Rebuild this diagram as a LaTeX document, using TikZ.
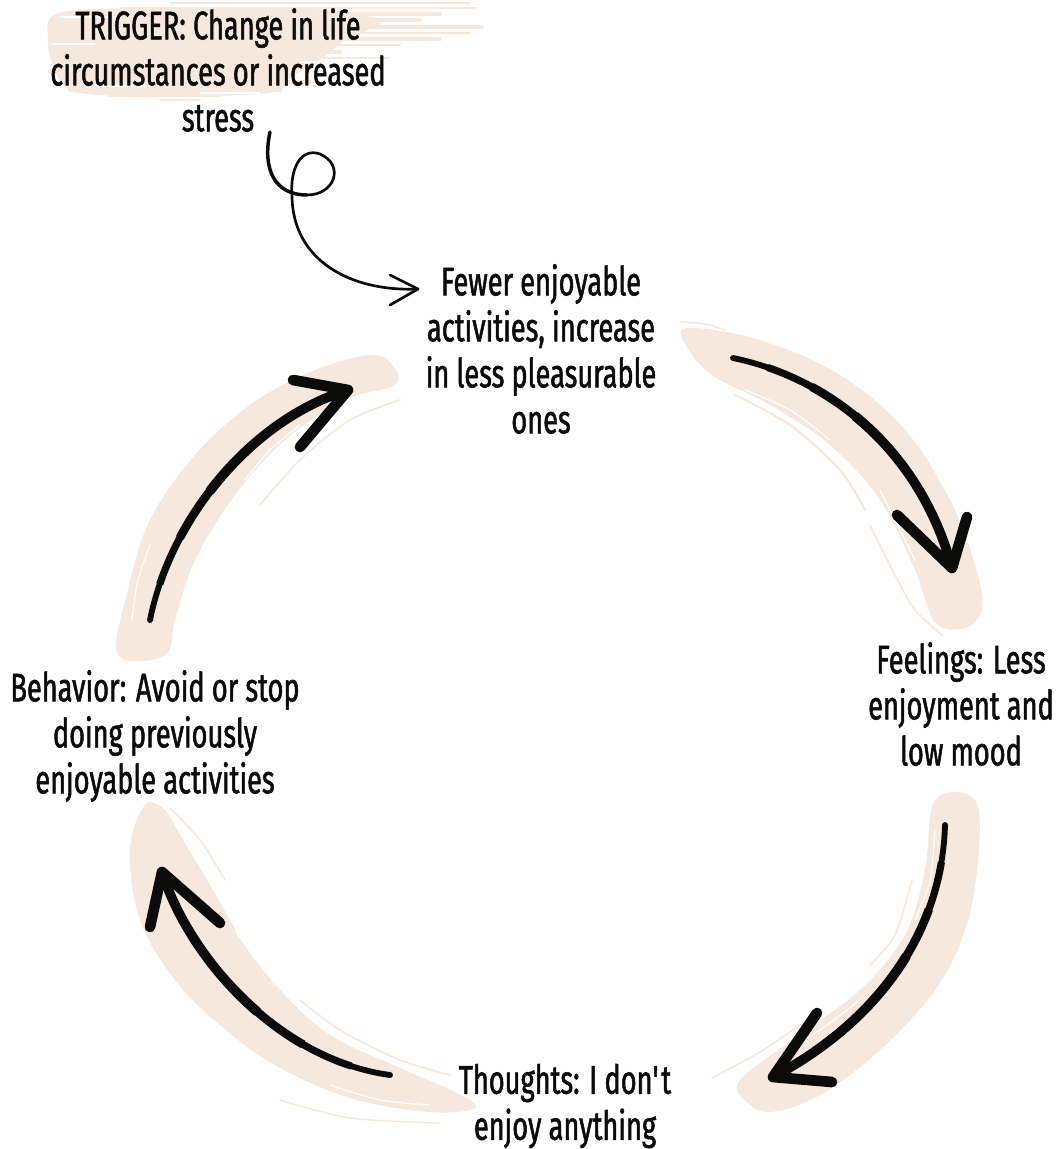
\documentclass[tikz,border=0pt]{standalone}
\usepackage{fontspec}
\usetikzlibrary{calc}
\setmainfont{Fira Sans}[FakeStretch=0.68, FakeBold=1.3]
\definecolor{paint}{HTML}{F6E8DC}
\definecolor{ink}{HTML}{0B0B09}
% Stroke the part of the cubic curve (#1 .. #2 and #3 .. #4) that starts
% at parameter #5, with style #6 (de Casteljau split).
\newcommand\curvetail[6]{%
  \coordinate (q0) at ($(#1)!#5!(#2)$);
  \coordinate (q1) at ($(#2)!#5!(#3)$);
  \coordinate (q2) at ($(#3)!#5!(#4)$);
  \coordinate (r0) at ($(q0)!#5!(q1)$);
  \coordinate (r1) at ($(q1)!#5!(q2)$);
  \coordinate (sp) at ($(r0)!#5!(r1)$);
  \draw[#6] (sp) .. controls (r1) and (q2) .. (#4);
}
% A hand-drawn shaft that thickens towards its head.
\newcommand\taperedcurve[4]{%
  \draw[shaft, line width=4.4pt] (#1) .. controls (#2) and (#3) .. (#4);
  \curvetail{#1}{#2}{#3}{#4}{0.12}{shaft, line cap=butt, line width=5.4pt}
  \curvetail{#1}{#2}{#3}{#4}{0.28}{shaft, line cap=butt, line width=6.4pt}
  \curvetail{#1}{#2}{#3}{#4}{0.45}{shaft, line cap=butt, line width=7.2pt}
}
\begin{document}
\begin{tikzpicture}[x=0.75pt,y=-0.75pt,
  lbl/.style={align=center, font=\fontsize{30}{34.5}\selectfont, inner sep=0pt, text=ink},
  brushfill/.style={fill=paint, draw=none},
  streak/.style={draw=paint, line cap=round},
  dry/.style={draw=white, line cap=round, line width=0.9pt},
  shaft/.style={draw=ink, line cap=round, line join=round},
  boldbarb/.style={draw=ink, line width=8pt, line cap=round, line join=round},
  thinarrow/.style={draw=ink, line width=2pt, line cap=round, line join=round}]

\useasboundingbox[fill=white] (0,0) rectangle (1060,1149);

% ---------- painted brush strokes ----------
% trigger banner: a dense core with dry streaks trailing to the right
\fill[brushfill] plot[smooth cycle, tension=0.5] coordinates {
  (62,12) (200,8) (330,10) (380,22) (345,40) (320,60) (290,78) (270,93)
  (160,97) (75,92) (55,70) (48,40)};
\foreach \yy/\xa/\xb/\w in {3/170/470/1.2, 8/120/476/2, 14/90/440/2.4, 20/300/420/2.6,
  27/330/482/2.4, 33/300/470/2, 39/320/440/2.6, 45/300/400/2, 52/290/340/2.4,
  58/260/390/1.4, 65/260/300/2, 72/50/290/3, 82/65/310/2.4, 90/70/280/3,
  96/110/220/1.6, 100/160/200/1.2}
  \draw[streak, line width=\w pt] (\xa,\yy) -- (\xb,\yy);
\foreach \yy/\xa/\xb in {17/60/120, 44/52/95, 86/90/150, 93/200/260, 62/300/330}
  \draw[dry] (\xa,\yy) -- (\xb,\yy);

% top right sweep
\fill[brushfill] plot[smooth cycle, tension=0.6] coordinates {
  (688,328) (760,340) (840,375) (905,430) (950,500) (975,565) (982,608) (965,628)
  (935,622) (915,570) (880,500) (830,445) (770,405) (712,375) (686,345)};
\draw[streak, line width=1.2pt] plot[smooth] coordinates {(680,322) (705,324) (725,330)};
\draw[streak, line width=1.5pt] plot[smooth] coordinates {(735,395) (790,425) (840,470) (865,510)};
\draw[streak, line width=1.2pt] plot[smooth] coordinates {(870,525) (895,575) (915,610) (943,636)};
\draw[streak, line width=1pt] plot[smooth] coordinates {(700,350) (730,362)};
\draw[dry] plot[smooth] coordinates {(745,390) (790,410) (830,440)};
\draw[dry] plot[smooth] coordinates {(880,490) (900,530) (915,560)};

% lower right sweep
\fill[brushfill] plot[smooth cycle, tension=0.6] coordinates {
  (975,800) (978,860) (965,930) (935,990) (880,1050) (820,1095) (770,1112)
  (745,1100) (740,1080) (795,1038) (860,990) (905,935) (925,870) (935,800)};
\draw[streak, line width=1.2pt] plot[smooth] coordinates {(912,880) (895,935) (870,965)};
\draw[streak, line width=1.2pt] plot[smooth] coordinates {(800,1025) (760,1052) (712,1078)};
\draw[streak, line width=1pt] plot[smooth] coordinates {(972,815) (975,870) (968,920)};
\draw[dry] plot[smooth] coordinates {(935,830) (930,880) (915,920)};
\draw[dry] plot[smooth] coordinates {(860,1000) (820,1030) (780,1055)};

% lower left sweep
\fill[brushfill] plot[smooth cycle, tension=0.6] coordinates {
  (145,805) (130,850) (140,920) (175,980) (220,1025) (275,1065) (350,1098) (430,1112) (475,1108)
  (455,1092) (400,1068) (330,1035) (280,990) (245,945) (210,885) (180,835) (165,810)};
\draw[streak, line width=1.2pt] plot[smooth] coordinates {(170,808) (200,840) (225,880)};
\draw[streak, line width=1.2pt] plot[smooth] coordinates {(300,1000) (340,1030) (400,1060) (450,1075)};
\draw[streak, line width=1pt] plot[smooth] coordinates {(280,1100) (350,1118) (440,1123)};
\draw[dry] plot[smooth] coordinates {(235,930) (260,965) (290,995)};
\draw[dry] plot[smooth] coordinates {(330,1085) (380,1100) (430,1105)};

% upper left sweep
\fill[brushfill] plot[smooth cycle, tension=0.6] coordinates {
  (118,655) (128,590) (150,520) (195,455) (250,405) (310,372) (370,355) (392,365)
  (395,385) (345,400) (285,440) (235,495) (195,560) (175,620) (165,655)};
\draw[streak, line width=1.2pt] plot[smooth] coordinates {(400,400) (350,420) (300,460) (260,505)};
\draw[streak, line width=1pt] plot[smooth] coordinates {(125,640) (130,600) (145,550)};
\draw[dry] plot[smooth] coordinates {(300,425) (270,450) (245,480)};
\draw[dry] plot[smooth] coordinates {(132,620) (138,580) (150,545)};

% ---------- texts ----------
\node[lbl] (trigger)  at (218,70)  {TRIGGER: Change in life\\circumstances or increased\\stress};
\node[lbl] (fewer)    at (541,349) {Fewer enjoyable\\activities, increase\\in less pleasurable\\ones};
\node[lbl] (feelings) at (961,704) {Feelings: Less\\enjoyment and\\low mood};
\node[lbl] (thoughts) at (565,1106) {Thoughts: I don\textquotesingle t\\enjoy anything};
\node[lbl] (behavior) at (155,736) {Behavior: Avoid or stop\\doing previously\\enjoyable activities};

% ---------- arrow end and control points ----------
\coordinate (t0) at (270,132);
\coordinate (t1) at (418,289);
\coordinate (a0) at (733,358);  \coordinate (a1) at (952,568);
\coordinate (ac1) at (830,378); \coordinate (ac2) at (920,450);
\coordinate (b0) at (945,825);  \coordinate (b1) at (773,1077);
\coordinate (bc1) at (942,930); \coordinate (bc2) at (880,1020);
\coordinate (c0) at (390,1075); \coordinate (c1) at (162,872);
\coordinate (cc1) at (280,1060); \coordinate (cc2) at (190,960);
\coordinate (d0) at (150,620);  \coordinate (d1) at (348,390);
\coordinate (dc1) at (170,520); \coordinate (dc2) at (250,420);

% trigger looping arrow
\draw[thinarrow, line width=2.6pt] (t0) .. controls (262,170) and (275,195) .. (307,195);
\draw[thinarrow] (307,195)
  .. controls (335,195) and (345,165) .. (320,154)
  .. controls (300,147) and (290,170) .. (292,195)
  .. controls (292,260) and (350,292) .. (t1);
\draw[thinarrow] (390,275) -- (t1) -- (390,305);

% cycle arrows
\taperedcurve{a0}{ac1}{ac2}{a1}
\draw[boldbarb] (897,515) -- (a1) -- (967,517);

\taperedcurve{b0}{bc1}{bc2}{b1}
\draw[boldbarb] (817,1013) -- (b1) -- (832,1082);

\taperedcurve{c0}{cc1}{cc2}{c1}
\draw[boldbarb] (220,923) -- (c1) -- (150,927);

\taperedcurve{d0}{dc1}{dc2}{d1}
\draw[boldbarb] (293,380) -- (d1) -- (300,447);
\end{tikzpicture}
\end{document}
